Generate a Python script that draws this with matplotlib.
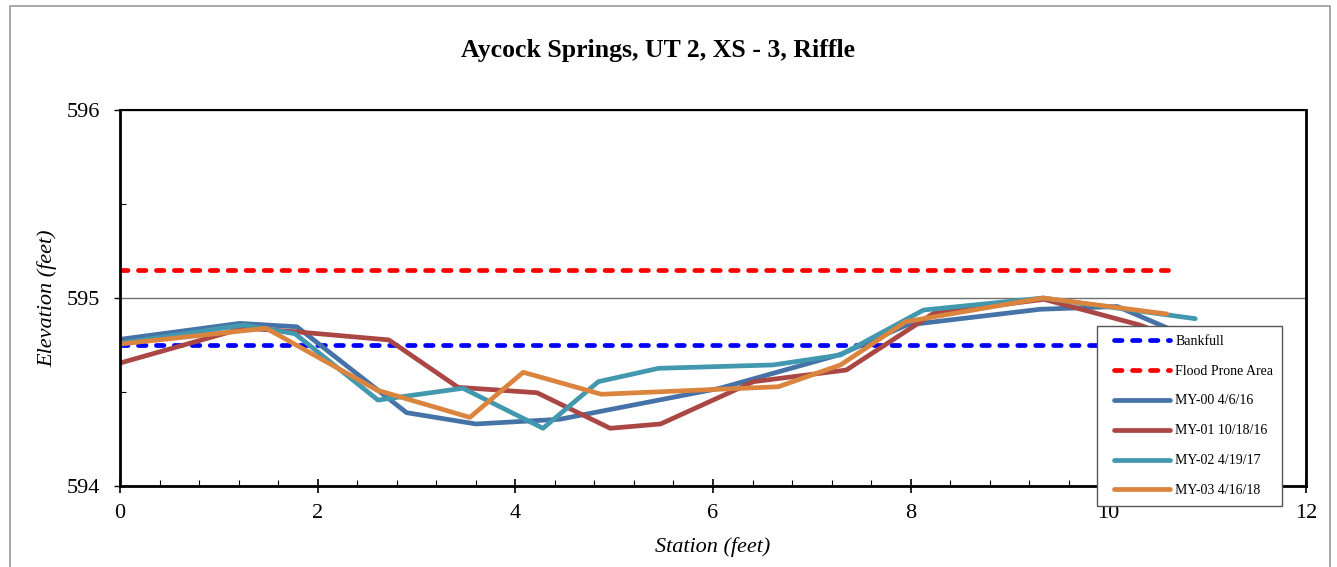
import matplotlib
matplotlib.use("Agg")
import matplotlib.pyplot as plt
from matplotlib.ticker import MultipleLocator
from matplotlib.patches import Rectangle
from matplotlib.lines import Line2D
from matplotlib.legend_handler import HandlerLine2D

# ---- data ----
bankfull_x = [0.0, 10.6]
bankfull_y = [594.75, 594.75]
flood_x = [0.0, 10.6]
flood_y = [595.15, 595.15]

my00_x = [0.0, 1.21, 1.79, 2.90, 3.60, 4.45, 6.07, 7.29, 7.96, 9.31, 10.09, 10.60]
my00_y = [594.78, 594.865, 594.847, 594.39, 594.33, 594.355, 594.52, 594.70, 594.856, 594.94, 594.955, 594.84]

my01_x = [0.0, 1.25, 1.79, 2.72, 3.42, 4.22, 4.96, 5.47, 6.41, 7.35, 8.23, 9.35, 10.32, 10.60]
my01_y = [594.654, 594.84, 594.82, 594.777, 594.525, 594.496, 594.307, 594.33, 594.555, 594.617, 594.918, 594.993, 594.856, 594.80]

my02_x = [0.0, 1.25, 1.77, 2.61, 2.73, 3.47, 4.28, 4.84, 5.45, 6.61, 7.29, 8.13, 9.34, 10.88]
my02_y = [594.759, 594.856, 594.81, 594.457, 594.466, 594.52, 594.307, 594.555, 594.626, 594.644, 594.697, 594.936, 595.0, 594.89]

my03_x = [0.0, 1.48, 2.60, 3.54, 4.08, 4.87, 6.66, 7.29, 7.95, 9.34, 10.59]
my03_y = [594.755, 594.839, 594.51, 594.365, 594.605, 594.488, 594.528, 594.644, 594.874, 595.0, 594.915]

series_labels = ["Bankfull", "Flood Prone Area", "MY-00 4/6/16", "MY-01 10/18/16",
                 "MY-02 4/19/17", "MY-03 4/16/18"]
series_colors = ["#0000FF", "#FF0000", "#4572A7", "#AA4643", "#4198AF", "#DB843D"]

title = "Aycock Springs, UT 2, XS - 3, Riffle"
xlabel = "Station (feet)"
ylabel = "Elevation (feet)"
xticks = [0, 2, 4, 6, 8, 10, 12]
yticks = [594, 595, 596]

# ---- figure ----
W, H = 1337, 567
fig = plt.figure(figsize=(W / 100, H / 100), dpi=100)
plt.rcParams['font.family'] = ['Liberation Serif', 'DejaVu Serif']

# outer border
fig.patches.append(Rectangle((10 / W, -0.1), 1320 / W, 1 - 6 / H + 0.1,
                             transform=fig.transFigure, fill=False,
                             edgecolor="#9a9a9a", linewidth=1.2))

ax = fig.add_axes([120 / W, 1 - 486 / H, (1306 - 120) / W, (486 - 110) / H])

dash = (1.6, 2.2)
ax.plot(bankfull_x, bankfull_y, color=series_colors[0], lw=3.4, dashes=dash,
        dash_capstyle='round', label=series_labels[0])
ax.plot(flood_x, flood_y, color=series_colors[1], lw=3.4, dashes=dash,
        dash_capstyle='round', label=series_labels[1])
for xs, ys, c, lab in [(my00_x, my00_y, series_colors[2], series_labels[2]),
                       (my01_x, my01_y, series_colors[3], series_labels[3]),
                       (my02_x, my02_y, series_colors[4], series_labels[4]),
                       (my03_x, my03_y, series_colors[5], series_labels[5])]:
    ax.plot(xs, ys, color=c, lw=3.4, solid_capstyle='round', label=lab)

ax.set_xlim(0, 12)
ax.set_ylim(594, 596)
ax.set_xticks(xticks)
ax.set_yticks(yticks)
ax.set_xticklabels([str(v) for v in xticks])
ax.set_yticklabels([str(v) for v in yticks])
ax.xaxis.set_minor_locator(MultipleLocator(0.4))
ax.yaxis.set_minor_locator(MultipleLocator(0.5))
ax.yaxis.grid(True, which='major', color="#707070", lw=1.0)
ax.set_axisbelow(True)

ax.tick_params(axis='x', which='major', direction='inout', length=10, width=1.2,
               labelsize=16, pad=8, colors='black')
ax.tick_params(axis='x', which='minor', direction='in', length=4.5, width=0.8)
ax.tick_params(axis='y', which='major', direction='out', length=4.5, width=1.0,
               labelsize=16, pad=10)
ax.tick_params(axis='y', which='minor', direction='in', length=4.5, width=0.8)

for s in ['left', 'bottom', 'right']:
    ax.spines[s].set_linewidth(2.0)
    ax.spines[s].set_color('black')
ax.spines['top'].set_linewidth(1.5)
ax.spines['top'].set_color('black')

ax.set_xlabel(xlabel, fontsize=16, style='italic', labelpad=10)
ax.set_ylabel(ylabel, fontsize=16, style='italic', labelpad=6.5)

fig.text(658 / W, 1 - 51 / H, title, ha='center', va='center',
         fontsize=18.5, fontweight='bold')

fs = 10
fspx = fs * 100 / 72
leg = ax.legend(loc='upper left', bbox_to_anchor=(1097 / W, 1 - 326 / H),
                bbox_transform=fig.transFigure, borderaxespad=0,
                fontsize=fs, handlelength=(56 + 8) / fspx, handletextpad=0.4,
                labelspacing=1.22, borderpad=0.62, frameon=True, fancybox=False,
                edgecolor='#555555', framealpha=1.0,
                handler_map={Line2D: HandlerLine2D(xpad=8 / fspx)})
leg.get_frame().set_linewidth(1.0)

fig.savefig("out.png", dpi=100)
